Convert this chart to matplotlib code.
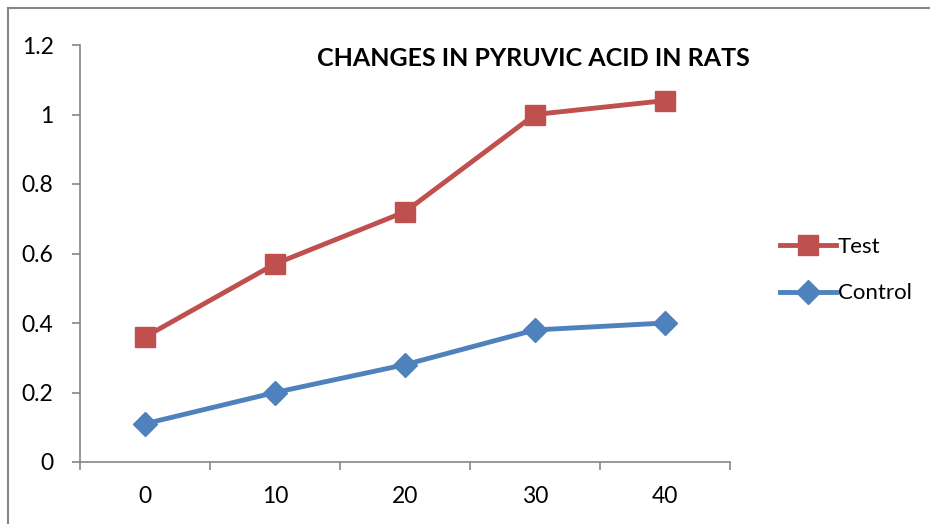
import matplotlib
matplotlib.use("Agg")
from matplotlib import pyplot as plt
from matplotlib.lines import Line2D

days = ["0", "10", "20", "30", "40"]
test = [0.36, 0.57, 0.72, 1.0, 1.04]
control = [0.11, 0.20, 0.28, 0.38, 0.40]

plt.rcParams['font.family'] = ['Lato', 'DejaVu Sans']

fig = plt.figure(figsize=(9.3, 5.24), dpi=100)
ax = fig.add_axes([80/930, 62/524, 650/930, 417/524])

x = list(range(len(days)))
ax.plot(x, test, color='#C0504D', lw=3.5, marker='s', ms=14, label='Test')
ax.plot(x, control, color='#4F81BD', lw=3.5, marker='D', ms=12, label='Control')

ax.set_xlim(-0.5, len(days) - 0.5)
ax.set_ylim(0, 1.2)
ax.set_yticks([0, 0.2, 0.4, 0.6, 0.8, 1, 1.2])
ax.set_yticklabels(["0", "0.2", "0.4", "0.6", "0.8", "1", "1.2"])

# category axis: ticks between categories, labels at the centres
ax.set_xticks([i - 0.5 for i in range(len(days) + 1)])
ax.set_xticklabels([])
ax.set_xticks(x, minor=True)
ax.set_xticklabels(days, minor=True)
ax.tick_params(axis='x', which='major', length=6, width=1.2, color='#868686', direction='out')
ax.tick_params(axis='x', which='minor', length=0, pad=17, labelsize=16.5)
ax.tick_params(axis='y', length=6, width=1.2, color='#868686', pad=13, labelsize=16.5)

for s in ['top', 'right']:
    ax.spines[s].set_visible(False)
for s in ['left', 'bottom']:
    ax.spines[s].set_color('#868686')
    ax.spines[s].set_linewidth(1.2)

fig.text(533/930, 1 - 58/524, "CHANGES IN PYRUVIC ACID IN RATS", ha='center', va='center',
         fontsize=18, fontweight='bold')

fig.legend(loc='center left', bbox_to_anchor=(760/930, 1 - 270/524), frameon=False,
           fontsize=16, handlelength=2.5, handletextpad=0.1, labelspacing=1.2)

# chart frame (only top and left edges visible)
fig.add_artist(Line2D([8/930, 1], [1 - 8/524, 1 - 8/524], color='#868686', lw=1.5))
fig.add_artist(Line2D([8/930, 8/930], [0, 1 - 8/524], color='#868686', lw=1.5))

fig.savefig("out.png", dpi=100)
